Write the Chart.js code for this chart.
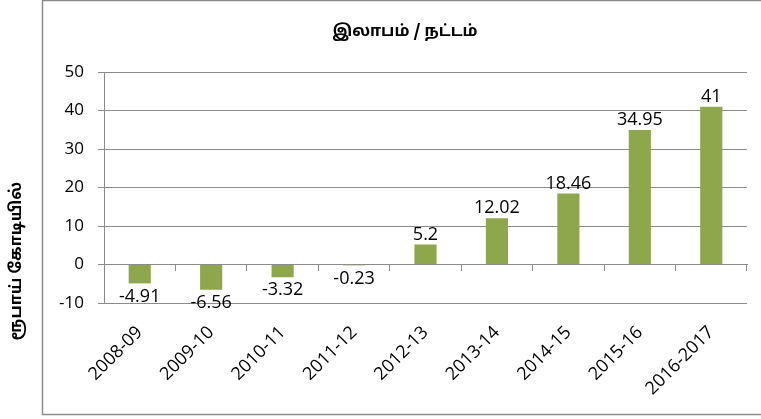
<!DOCTYPE html>
<html lang="ta">
<head>
  <meta charset="UTF-8" />
  <title>இலாபம் / நட்டம்</title>
  <script src="https://cdn.jsdelivr.net/npm/chart.js"></script>
  <style>
    body { margin: 0; background: #ffffff; }
    #wrap { width: 761px; height: 419px; position: relative; }
  </style>
</head>
<body>
  <div id="wrap">
    <canvas id="chart" width="761" height="419"></canvas>
  </div>

  <script>
    const years = ['2008-09', '2009-10', '2010-11', '2011-12', '2012-13', '2013-14', '2014-15', '2015-16', '2016-2017'];
    const profit = [-4.91, -6.56, -3.32, -0.23, 5.2, 12.02, 18.46, 34.95, 41];
    const chartTitle = 'இலாபம் / நட்டம்';
    const yTitle = 'ரூபாய் கோடியில்';

    const gridGray = '#8c8c8c';
    const tamilFont = '"Noto Sans Tamil", "Latha", "Noto Sans", sans-serif';
    const numFont = '"Open Sans", "Noto Sans", sans-serif';

    // outer box + titles
    const frame = {
      id: 'frame',
      beforeDraw(chart) {
        const c = chart.ctx;
        c.save();
        c.strokeStyle = gridGray;
        c.lineWidth = 1.5;
        c.strokeRect(42.5, 0.5, 800, 414);
        c.restore();
      },
      afterDraw(chart) {
        const c = chart.ctx;
        c.save();
        c.fillStyle = '#000';
        c.textAlign = 'center';
        c.textBaseline = 'middle';
        c.font = 'bold 16px ' + tamilFont;
        c.fillText(chartTitle, 405, 33);
        c.translate(18, 261);
        c.rotate(-Math.PI / 2);
        c.font = 'bold 16px ' + tamilFont;
        c.fillText(yTitle, 0, 0);
        c.restore();
      }
    };

    // value labels on bars
    const barLabels = {
      id: 'barLabels',
      afterDatasetsDraw(chart) {
        const c = chart.ctx;
        const meta = chart.getDatasetMeta(0);
        c.save();
        c.fillStyle = '#000';
        c.font = '18px ' + numFont;
        c.textAlign = 'center';
        meta.data.forEach((bar, i) => {
          const v = profit[i];
          if (v >= 0) {
            c.textBaseline = 'bottom';
            c.fillText(String(v), bar.x, bar.y - 1);
          } else {
            c.textBaseline = 'top';
            c.fillText(String(v), bar.x, bar.y + 4);
          }
        });
        c.restore();
      }
    };

    new Chart(document.getElementById('chart'), {
      type: 'bar',
      data: {
        labels: years,
        datasets: [{
          data: profit,
          backgroundColor: '#8ea64c',
          barPercentage: 0.31,
          categoryPercentage: 1
        }]
      },
      options: {
        responsive: false,
        animation: false,
        layout: { padding: { top: 72, right: 14, left: 0, bottom: 0 } },
        plugins: {
          legend: { display: false },
          tooltip: { enabled: false }
        },
        scales: {
          y: {
            min: -10,
            max: 50,
            afterFit: s => { s.width = 104; },
            ticks: { stepSize: 10, color: '#000', padding: 14, font: { family: numFont, size: 17 } },
            grid: { color: gridGray, tickLength: 6, tickColor: gridGray },
            border: { display: true, color: gridGray }
          },
          x: {
            afterFit: s => { s.height = 116; },
            grid: { display: false },
            border: { display: false },
            ticks: { color: '#000', minRotation: 45, maxRotation: 45, padding: 11, font: { family: numFont, size: 18 } }
          },
          x2: {
            type: 'category',
            labels: years,
            position: { y: 0 },
            afterFit: s => { s.height = 0; },
            ticks: { display: false },
            grid: { drawOnChartArea: false, offset: true, tickLength: 6, color: gridGray },
            border: { display: true, color: gridGray }
          }
        }
      },
      plugins: [frame, barLabels]
    });
  </script>
</body>
</html>
